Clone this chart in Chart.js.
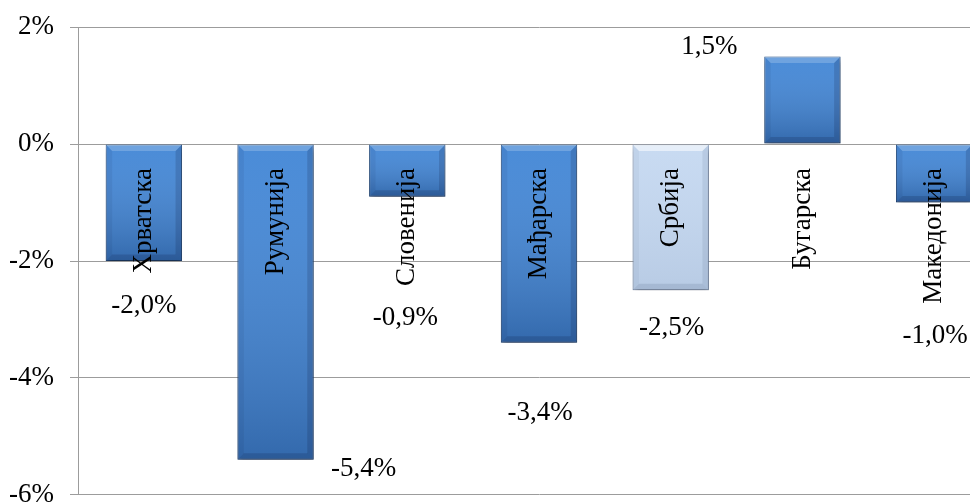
<!DOCTYPE html>
<html>
<head>
<meta charset="utf-8">
<script src="https://cdn.jsdelivr.net/npm/chart.js@4.4.0/dist/chart.umd.min.js"></script>
<style>
html, body { margin: 0; padding: 0; background: #fff; overflow: hidden; width: 970px; height: 504px; }
#wrap { position: absolute; left: 0; top: -5px; width: 1000px; height: 532px; }
</style>
</head>
<body>
<div id="wrap"><canvas id="chart"></canvas></div>
<script>
// chart data
var countries = ['Хрватска', 'Румунија', 'Словенија', 'Мађарска', 'Србија', 'Бугарска', 'Македонија'];
var growth = [-2.0, -5.4, -0.9, -3.4, -2.5, 1.5, -1.0];
var yTicks = [-6, -4, -2, 0, 2];
var highlight = 'Србија';

// where each value label sits, relative to the end of its bar (px)
var labelShift = [[0, 45], [88, 9], [-2, 121], [1, 70], [1, 38], [-93, -10], [1, 133]];

var FONT = { family: '"Liberation Serif", "Times New Roman", serif', size: 27 };

function pct(v) { return v.toFixed(1).replace('.', ',') + '%'; }

var fills = countries.map(function (c) { return c == highlight ? '#c6d9f1' : '#4387d6'; });
var edges = countries.map(function (c) { return c == highlight ? '#8ea5c6' : '#2c5890'; });

// soft drop shadow under the bars + bevel look
var barLookPlugin = {
    id: 'barLook',
    beforeDatasetsDraw: function (chart) {
        var ctx = chart.ctx;
        ctx.save();
        ctx.shadowColor = 'rgba(0,0,0,0.38)';
        ctx.shadowBlur = 6;
        ctx.shadowOffsetX = 1;
        ctx.shadowOffsetY = 4;
    },
    afterDatasetsDraw: function (chart) {
        chart.ctx.restore();
        var ctx = chart.ctx;
        chart.getDatasetMeta(0).data.forEach(function (bar, i) {
            var p = bar.getProps(['x', 'y', 'base', 'width'], true);
            var l = p.x - p.width / 2 + 0.5, r = p.x + p.width / 2 - 0.5;
            var t = Math.min(p.y, p.base) + 0.5, b = Math.max(p.y, p.base) - 0.5;
            var k = 6;
            var light = countries[i] == highlight;
            function poly(pts, col) {
                ctx.beginPath();
                ctx.moveTo(pts[0][0], pts[0][1]);
                for (var j = 1; j < pts.length; j++) ctx.lineTo(pts[j][0], pts[j][1]);
                ctx.closePath();
                ctx.fillStyle = col;
                ctx.fill();
            }
            ctx.save();
            var g = ctx.createLinearGradient(0, t, 0, b);
            g.addColorStop(0, 'rgba(255,255,255,0.04)');
            g.addColorStop(1, light ? 'rgba(0,20,60,0.07)' : 'rgba(0,10,40,0.24)');
            poly([[l, t], [r, t], [r, b], [l, b]], g);
            poly([[l, t], [r, t], [r - k, t + k], [l + k, t + k]], light ? 'rgba(255,255,255,0.55)' : 'rgba(255,255,255,0.20)');
            poly([[l, t], [l + k, t + k], [l + k, b - k], [l, b]], light ? 'rgba(0,20,60,0.04)' : 'rgba(0,0,30,0.06)');
            poly([[r, t], [r, b], [r - k, b - k], [r - k, t + k]], light ? 'rgba(0,20,60,0.08)' : 'rgba(0,0,30,0.14)');
            poly([[l, b], [l + k, b - k], [r - k, b - k], [r, b]], light ? 'rgba(0,20,60,0.10)' : 'rgba(0,0,30,0.14)');
            ctx.restore();
        });
    }
};

// value labels, placed by hand as in the original
var valuePlugin = {
    id: 'values',
    afterDraw: function (chart) {
        var ctx = chart.ctx;
        ctx.save();
        ctx.font = FONT.size + 'px ' + FONT.family;
        ctx.fillStyle = '#000';
        ctx.textAlign = 'center';
        ctx.textBaseline = 'middle';
        chart.getDatasetMeta(0).data.forEach(function (bar, i) {
            var p = bar.getProps(['x', 'y'], true);
            ctx.fillText(pct(growth[i]), p.x + labelShift[i][0], p.y + labelShift[i][1]);
        });
        ctx.restore();
    }
};

new Chart(document.getElementById('chart'), {
    type: 'bar',
    data: {
        labels: countries,
        datasets: [{
            data: growth,
            backgroundColor: fills,
            borderColor: edges,
            borderWidth: 1,
            borderSkipped: false,
            categoryPercentage: 1,
            barPercentage: 0.58
        }]
    },
    options: {
        responsive: true,
        maintainAspectRatio: false,
        animation: false,
        layout: { padding: 0 },
        plugins: { legend: { display: false }, tooltip: { enabled: false } },
        scales: {
            x: {
                position: { y: 0 },
                grid: { display: false, drawTicks: false },
                border: { display: false },
                ticks: {
                    z: 1,
                    minRotation: 90, maxRotation: 90, autoSkip: false,
                    padding: 24, color: '#000', font: FONT
                },
                afterFit: function (s) { s.height = 0; }
            },
            y: {
                min: -6,
                max: 2,
                afterBuildTicks: function (s) { s.ticks = yTicks.map(function (v) { return { value: v }; }); },
                grid: { color: '#9c9c9c', tickLength: 8, lineWidth: 1 },
                border: { color: '#9c9c9c' },
                ticks: {
                    padding: 16, color: '#000', font: FONT,
                    callback: function (v) { return v + '%'; }
                },
                afterFit: function (s) { s.width = 78; }
            }
        }
    },
    plugins: [barLookPlugin, valuePlugin]
});
</script>
</body>
</html>
